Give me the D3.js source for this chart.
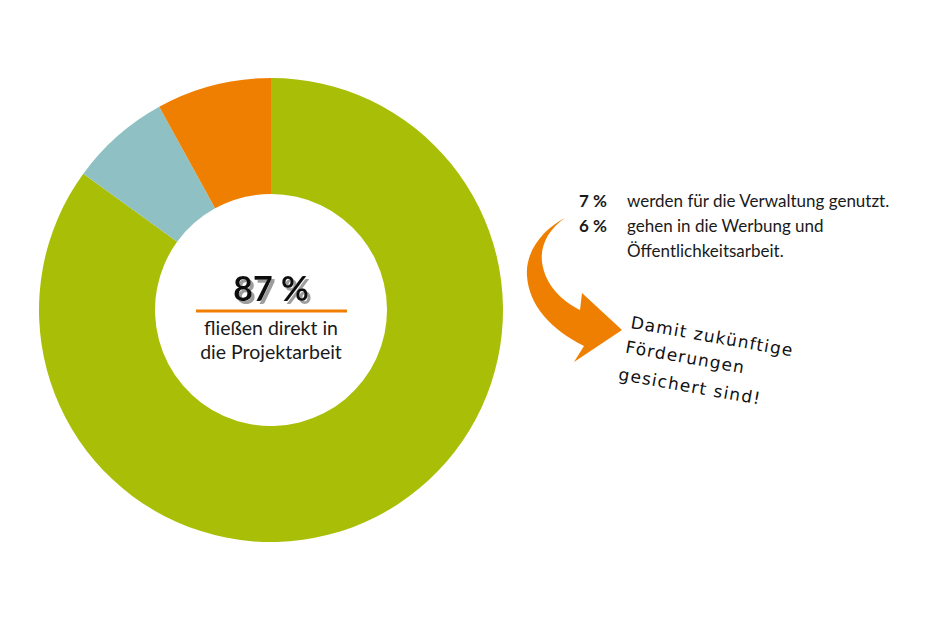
<html>
<head>
  <meta charset="utf-8">
  <script src="https://d3js.org/d3.v7.min.js"></script>
  <style>
    body { margin: 0; background: #fff; }
  </style>
</head>
<body>
  <div id="chart"></div>
  <script>

    // Slices in clockwise order from 12 o'clock (shares as drawn in the ring)
    var sliceNames = ["Projektarbeit", "Verwaltung", "Werbung"];
    var sliceShares = [85, 7, 8];
    var sliceColors = ["#a9bf07", "#8fc0c3", "#ef7f00"];

    // Texts
    var centerValue = "87 %";
    var centerLines = ["fließen direkt in", "die Projektarbeit"];
    var legendValues = ["7 %", "6 %"];
    var legendLines = [
      ["werden für die Verwaltung genutzt."],
      ["gehen in die Werbung und", "Öffentlichkeitsarbeit."]
    ];
    var noteLines = ["Damit zukünftige", "Förderungen", "gesichert sind!"];

    var width = 928, height = 619;
    var cx = 271, cy = 310;
    var outerR = 232, innerR = 116;

    var svg = d3.select("#chart")
      .append("svg")
        .attr("width", width)
        .attr("height", height);

    // hard grey shadow behind the big number
    svg.append("defs").append("filter")
        .attr("id", "shadow")
        .attr("x", "-10%").attr("y", "-10%")
        .attr("width", "130%").attr("height", "140%")
      .append("feDropShadow")
        .attr("dx", 3).attr("dy", 3)
        .attr("stdDeviation", 0)
        .attr("flood-color", "#9d9d9d")
        .attr("flood-opacity", 1);

    var color = d3.scaleOrdinal()
      .domain(sliceNames)
      .range(sliceColors);

    var pie = d3.pie()
      .sort(null)
      .value(d => d.value);

    var arc = d3.arc()
      .innerRadius(innerR)
      .outerRadius(outerR);

    var pieData = pie(sliceNames.map((n, i) => ({name: n, value: sliceShares[i]})));

    var donut = svg.append("g")
      .attr("transform", `translate(${cx},${cy})`);

    donut.selectAll("path")
      .data(pieData)
      .join("path")
        .attr("d", arc)
        .style("fill", d => color(d.data.name));

    // Center label
    var center = svg.append("g")
      .attr("transform", `translate(${cx},${cy})`)
      .style("font-family", "Lato, 'Open Sans', sans-serif")
      .attr("text-anchor", "middle");

    center.append("text")
      .attr("x", 0).attr("y", -9)
      .style("font-size", "34px").style("font-weight", "bold")
      .style("fill", "#111")
      .attr("filter", "url(#shadow)")
      .text(centerValue);

    center.append("line")
      .attr("x1", -75).attr("x2", 76)
      .attr("y1", 1).attr("y2", 1)
      .style("stroke", sliceColors[2])
      .style("stroke-width", 3);

    center.selectAll("text.sub")
      .data(centerLines)
      .join("text")
        .attr("class", "sub")
        .attr("x", 0)
        .attr("y", (d, i) => 25 + i * 24)
        .style("font-size", "19.5px")
        .style("fill", "#1a1a1a")
        .text(d => d);

    // Legend texts on the right
    var legend = svg.append("g")
      .style("font-family", "Lato, 'Open Sans', sans-serif")
      .style("font-size", "17px")
      .style("fill", "#1a1a1a");

    var rowY = 207, lineH = 25;
    var lineIndex = 0;
    legendValues.forEach(function(v, i) {
      var y0 = rowY + lineIndex * lineH;
      legend.append("text")
        .attr("x", 607).attr("y", y0)
        .attr("text-anchor", "end")
        .style("font-weight", "bold")
        .text(v);
      legendLines[i].forEach(function(t, j) {
        legend.append("text")
          .attr("x", 627).attr("y", y0 + j * lineH)
          .text(t);
      });
      lineIndex += legendLines[i].length;
    });

    // Curved arrow
    svg.append("path")
      .attr("d", "M565,218 C545,228 525,250 527,276 C529,305 550,329 584,346 L574,362 L622,330 L582,293 L580,310 C562,301 545,285 542,262 C540,245 549,229 565,218 Z")
      .style("fill", sliceColors[2]);

    // Handwritten note
    var note = svg.append("g")
      .attr("transform", "translate(630,328) rotate(10)")
      .style("font-family", "'DejaVu Sans', sans-serif")
      .style("font-size", "17px")
      .style("letter-spacing", "1.2px")
      .style("fill", "#111");

    var noteX = [0, -1, -3], noteY = [0, 25, 53];
    note.selectAll("text")
      .data(noteLines)
      .join("text")
        .attr("x", (d, i) => noteX[i])
        .attr("y", (d, i) => noteY[i])
        .text(d => d);

  </script>
</body>
</html>
